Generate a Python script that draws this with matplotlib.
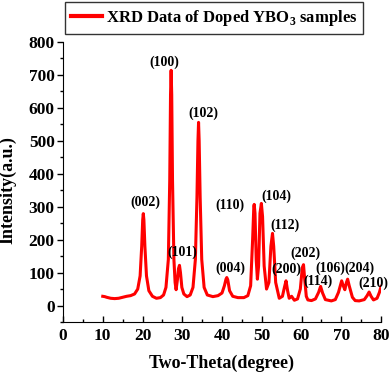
import matplotlib
matplotlib.use('Agg')
import matplotlib.pyplot as plt
from matplotlib.ticker import MultipleLocator

# XRD pattern points
two_theta = [10.0, 10.5, 11.0, 12.0, 13.0, 14.0, 15.0, 16.0, 17.0, 18.0,
             18.8, 19.4, 19.8, 20.05, 20.2, 20.35, 20.6, 21.0, 21.6, 22.5,
             23.5, 24.5, 25.3, 25.9, 26.5, 26.85, 27.05, 27.2, 27.35, 27.55,
             27.9, 28.2, 28.45, 28.8, 29.05, 29.3, 29.55, 29.9, 30.4, 31.2,
             32.0, 32.7, 33.3, 33.7, 33.95, 34.1, 34.25, 34.5, 34.9, 35.5,
             36.3, 37.7, 39.0, 40.0, 40.6, 41.0, 41.2, 41.45, 41.9, 42.7,
             44.0, 45.5, 46.5, 47.2, 47.7, 48.0, 48.1, 48.3, 48.6, 48.9,
             49.2, 49.55, 49.9, 50.2, 50.6, 51.2, 51.8, 52.3, 52.7, 53.0,
             53.5, 54.4, 55.2, 55.7, 56.1, 56.5, 56.9, 57.5, 58.2, 59.0,
             59.7, 60.2, 60.5, 60.8, 61.2, 61.6, 62.5, 63.5, 64.3, 64.8,
             65.3, 66.0, 67.5, 68.5, 69.3, 70.1, 70.5, 70.9, 71.3, 71.6,
             72.0, 72.8, 73.5, 74.5, 75.8, 76.5, 77.0, 77.5, 78.1, 79.0,
             79.6, 80.0]
intensity = [28, 27, 25, 22, 21, 22, 25, 28, 30, 35,
             50, 90, 180, 260, 279, 260, 180, 90, 45, 28,
             22, 24, 32, 55, 140, 380, 640, 714, 640, 380,
             140, 70, 48, 80, 112, 122, 100, 55, 35, 27,
             32, 55, 140, 330, 500, 556, 500, 330, 140, 55,
             32, 27, 30, 38, 60, 80, 85, 78, 45, 28,
             24, 24, 30, 60, 200, 300, 307, 280, 140, 80,
             120, 280, 310, 270, 120, 50, 70, 180, 219, 180,
             70, 22, 28, 55, 75, 45, 22, 28, 16, 20,
             50, 115, 124, 80, 28, 17, 15, 20, 40, 58,
             38, 18, 14, 18, 40, 75, 60, 48, 70, 80,
             60, 25, 15, 14, 18, 30, 41, 28, 17, 22,
             40, 58]

# Miller index labels and where they sit
peak_labels = ['(002)', '(100)', '(101)', '(102)', '(004)', '(110)', '(104)',
               '(112)', '(200)', '(202)', '(114)', '(106)', '(204)', '(210)']
label_x = [20.6, 25.4, 30.1, 35.3, 42.0, 42.0, 53.8, 55.8, 56.1, 60.9,
           64.2, 67.2, 74.5, 78.1]
label_y = [312, 739, 162, 585, 114, 305, 333, 244, 109, 160, 73, 112, 112, 68]

plt.rcParams['font.family'] = 'Liberation Serif'
plt.rcParams['font.weight'] = 'bold'
plt.rcParams['mathtext.fontset'] = 'custom'
plt.rcParams['mathtext.rm'] = 'Liberation Serif:bold'
plt.rcParams['mathtext.bf'] = 'Liberation Serif:bold'

fig = plt.figure(figsize=(3.92, 3.77), dpi=100)
ax = fig.add_axes([0.1607, 0.1459, 0.8113, 0.7427])

ax.plot(two_theta, intensity, color='#ff0000', lw=2.2,
        label=r'XRD Data of Doped YBO$_{3}$ samples')

for txt, x, y in zip(peak_labels, label_x, label_y):
    ax.text(x, y, txt, ha='center', va='center', fontsize=10,
            fontweight='bold')

ax.set_xlim(0, 80)
ax.set_ylim(-50, 800)
ax.xaxis.set_major_locator(MultipleLocator(10))
ax.xaxis.set_minor_locator(MultipleLocator(5))
ax.yaxis.set_major_locator(MultipleLocator(100))
ax.yaxis.set_minor_locator(MultipleLocator(50))
ax.set_yticks(range(0, 801, 100))

ax.spines['top'].set_visible(False)
ax.spines['right'].set_visible(False)
ax.spines['left'].set_bounds(-50, 800)

ax.tick_params(axis='x', which='major', direction='in', length=4, width=1,
               labelsize=12.5, pad=4)
ax.tick_params(axis='x', which='minor', direction='in', length=2.5, width=1)
ax.tick_params(axis='y', which='major', direction='out', length=4, width=1,
               labelsize=12.5, pad=2)
ax.tick_params(axis='y', which='minor', direction='out', length=2.5, width=1)
for lab in ax.get_xticklabels() + ax.get_yticklabels():
    lab.set_fontweight('bold')

ax.set_xlabel('Two-Theta(degree)', fontsize=13, fontweight='bold')
ax.set_ylabel('Intensity(a.u.)', fontsize=13, fontweight='bold')
ax.xaxis.set_label_coords(0.5, -0.118)
ax.yaxis.set_label_coords(-0.145, 0.471)

leg = ax.legend(loc='upper left', bbox_to_anchor=(65 / 392, 1 - 2 / 377),
                bbox_transform=fig.transFigure, fontsize=12, frameon=True,
                fancybox=False, edgecolor='black', handlelength=1.9,
                handletextpad=0.2, borderpad=0.35, borderaxespad=0)
leg.get_frame().set_linewidth(1)
for line in leg.get_lines():
    line.set_linewidth(3)
for t in leg.get_texts():
    t.set_fontweight('bold')

fig.savefig('out.png', dpi=100)
